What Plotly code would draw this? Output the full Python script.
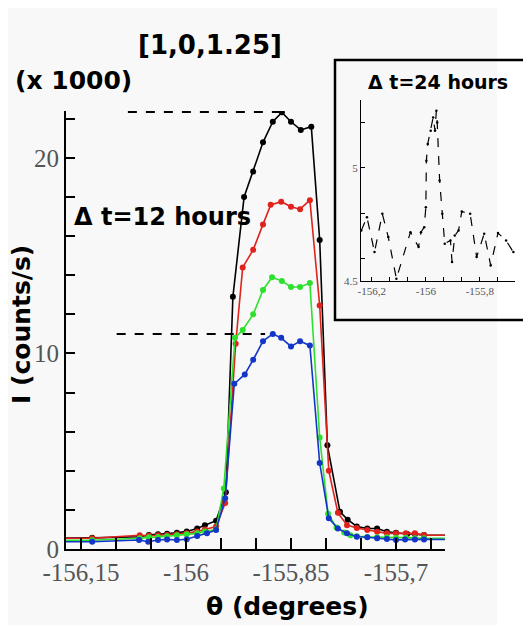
"""
Rocking curve of the [1,0,1.25] reflection at several times,
with an inset showing the curve after 24 hours.
"""

import plotly.graph_objects as go

# the page adds an 8 px body margin, so the figure is a bit smaller than the window
OFF = 8
W, H = 531 - OFF, 627 - OFF

# main panel: theta (degrees) and intensity (x 1000 counts/s)
theta_black = [-156.2, -156.134, -156.066, -156.053, -156.040, -156.027, -156.013, -155.999,
               -155.984, -155.973, -155.957, -155.943, -155.933, -155.917, -155.904, -155.890,
               -155.876, -155.863, -155.850, -155.836, -155.821, -155.809, -155.798, -155.780,
               -155.769, -155.756, -155.741, -155.727, -155.713, -155.700, -155.684, -155.673,
               -155.660, -155.6]
i_black = [0.55, 0.57, 0.63, 0.72, 0.75, 0.78, 0.83, 0.9, 1.05, 1.22, 1.45, 2.9, 12.9, 18.0,
           19.3, 20.8, 21.85, 22.33, 21.85, 21.43, 21.6, 15.8, 5.3, 1.9, 1.5, 1.15, 1.05, 1.05,
           0.88, 0.83, 0.77, 0.77, 0.71, 0.7]

theta_red = [-156.2, -156.134, -156.066, -156.053, -156.040, -156.027, -156.013, -155.999,
             -155.984, -155.973, -155.957, -155.944, -155.929, -155.919, -155.904, -155.890,
             -155.879, -155.864, -155.850, -155.837, -155.823, -155.809, -155.796, -155.783,
             -155.770, -155.756, -155.741, -155.727, -155.713, -155.700, -155.686, -155.673,
             -155.660, -155.6]
i_red = [0.55, 0.55, 0.7, 0.68, 0.7, 0.72, 0.76, 0.8, 0.9, 1.0, 1.15, 2.35, 10.5, 14.4, 15.3,
         16.6, 17.6, 17.76, 17.5, 17.38, 17.84, 12.45, 4.0, 1.85, 1.22, 1.07, 0.97, 0.88, 0.8,
         0.8, 0.8, 0.8, 0.71, 0.7]

theta_green = [-156.2, -156.134, -156.066, -156.053, -156.040, -156.027, -156.013, -155.999,
               -155.984, -155.973, -155.957, -155.946, -155.930, -155.919, -155.904, -155.890,
               -155.877, -155.863, -155.850, -155.837, -155.823, -155.809, -155.797, -155.785,
               -155.774, -155.765, -155.756, -155.741, -155.727, -155.713, -155.700, -155.686,
               -155.673, -155.660, -155.6]
i_green = [0.45, 0.45, 0.55, 0.6, 0.62, 0.65, 0.7, 0.75, 0.8, 0.9, 1.0, 3.1, 10.8, 11.2, 12.0,
           13.25, 13.9, 13.7, 13.4, 13.4, 13.6, 5.7, 1.8, 1.1, 0.85, 0.7, 0.65, 0.62, 0.6, 0.6,
           0.58, 0.58, 0.55, 0.55, 0.55]

theta_blue = [-156.2, -156.134, -156.067, -156.054, -156.040, -156.027, -156.013, -155.999,
              -155.984, -155.970, -155.957, -155.944, -155.931, -155.916, -155.904, -155.890,
              -155.876, -155.864, -155.850, -155.837, -155.823, -155.809, -155.796, -155.783,
              -155.770, -155.756, -155.741, -155.727, -155.713, -155.700, -155.687, -155.673,
              -155.660, -155.6]
i_blue = [0.37, 0.37, 0.46, 0.37, 0.46, 0.49, 0.46, 0.5, 0.66, 0.8, 0.97, 2.6, 8.45, 8.93, 9.68,
          10.63, 11.0, 10.8, 10.36, 10.63, 10.41, 4.4, 1.57, 1.05, 0.8, 0.63, 0.6, 0.55, 0.51,
          0.46, 0.48, 0.49, 0.49, 0.48]

# dashed guide lines (peak heights of the first and last curves)
guide_top_theta = [-156.083, -155.863]
guide_top_i = [22.35, 22.35]
guide_low_theta = [-156.099, -155.887]
guide_low_i = [11.0, 11.0]

x_ticks = [-156.15, -156.1, -156.05, -156.0, -155.95, -155.9, -155.85, -155.8, -155.75, -155.7, -155.65]
x_labels = ["-156,15", "", "", "-156", "", "", "-155,85", "", "", "-155,7", ""]
y_ticks = list(range(0, 23, 2))
y_labels = ["0", "", "", "", "", "10", "", "", "", "", "20", ""]

# inset: after 24 hours
ins_theta = [-156.239, -156.218, -156.190, -156.161, -156.139, -156.109, -156.057, -156.027,
             -156.018, -156.006, -156.000, -155.998, -155.993, -155.982, -155.973, -155.966,
             -155.961, -155.958, -155.949, -155.939, -155.930, -155.909, -155.903, -155.893,
             -155.879, -155.867, -155.836, -155.812, -155.784, -155.760, -155.733, -155.703,
             -155.676]
ins_i = [4.723, 4.782, 4.628, 4.797, 4.694, 4.510, 4.716, 4.650, 4.716, 4.738, 4.826, 5.032,
         5.106, 5.164, 5.223, 5.164, 5.253, 5.201, 4.944, 4.797, 4.665, 4.679, 4.584, 4.701,
         4.723, 4.807, 4.797, 4.606, 4.709, 4.569, 4.712, 4.679, 4.628]
ins_x_ticks = [-156.2, -156.133, -156.067, -156.0, -155.933, -155.867, -155.8, -155.733]
ins_x_labels = ["-156,2", "", "", "-156", "", "", "-155,8", ""]
ins_y_ticks = [4.5, 4.6, 4.8, 5.0, 5.2]
ins_y_labels = ["4.5", "", "", "5", ""]


def px(x):
    # window pixel -> paper fraction
    return (x - OFF) / W


def py(y):
    return 1 - (y - OFF) / H


fig = go.Figure()

series = [
    (theta_black, i_black, "#000000"),
    (theta_red, i_red, "#e0221c"),
    (theta_green, i_green, "#2ee02e"),
    (theta_blue, i_blue, "#1436c8"),
]
for th, inten, col in series:
    fig.add_trace(go.Scatter(
        x=th, y=inten, mode="lines+markers",
        line=dict(color=col, width=1.6),
        marker=dict(color=col, size=6),
        showlegend=False
    ))

for gx, gy in [(guide_top_theta, guide_top_i), (guide_low_theta, guide_low_i)]:
    fig.add_trace(go.Scatter(
        x=gx, y=gy, mode="lines",
        line=dict(color="black", width=2, dash="dash"),
        cliponaxis=False, showlegend=False
    ))

fig.add_trace(go.Scatter(
    x=ins_theta, y=ins_i, mode="lines+markers",
    line=dict(color="black", width=1.2, dash="dash"),
    marker=dict(color="black", size=2.5),
    xaxis="x2", yaxis="y2", showlegend=False
))

tick_font = dict(family="Liberation Serif", size=25, color="#555555")
small_font = dict(family="Liberation Serif", size=11, color="#555555")

fig.update_layout(
    width=W, height=H,
    margin=dict(l=0, r=0, t=0, b=0),
    paper_bgcolor="white",
    plot_bgcolor="rgba(0,0,0,0)",
    xaxis=dict(
        domain=[px(66), px(445)], range=[-156.1714, -155.63], automargin=False,
        tickvals=x_ticks, ticktext=x_labels, ticks="inside", ticklen=11, tickwidth=2,
        tickcolor="black", showline=True, linecolor="black", linewidth=2,
        showgrid=False, zeroline=False, tickfont=tick_font
    ),
    yaxis=dict(
        domain=[py(549), py(111)], range=[0, 22.4], automargin=False,
        tickvals=y_ticks, ticktext=y_labels, ticks="inside", ticklen=9, tickwidth=2,
        tickcolor="black", showline=True, linecolor="black", linewidth=2,
        showgrid=False, zeroline=False, tickfont=tick_font
    ),
    xaxis2=dict(
        domain=[px(361), px(515)], range=[-156.24, -155.67], anchor="y2", automargin=False,
        tickvals=ins_x_ticks, ticktext=ins_x_labels, ticks="inside", ticklen=4,
        tickcolor="black", showline=True, linecolor="black", linewidth=1,
        showgrid=False, zeroline=False, tickfont=small_font
    ),
    yaxis2=dict(
        domain=[py(281), py(100)], range=[4.5, 5.3], anchor="x2", automargin=False,
        tickvals=ins_y_ticks, ticktext=ins_y_labels, ticks="inside", ticklen=4,
        tickcolor="black", showline=True, linecolor="black", linewidth=1,
        showgrid=False, zeroline=False, tickfont=small_font
    ),
    shapes=[
        dict(type="rect", xref="paper", yref="paper", layer="below",
             x0=px(8), x1=px(497), y0=py(625), y1=py(8),
             fillcolor="#f8f8f8", line=dict(width=0)),
        dict(type="rect", xref="paper", yref="paper", layer="above",
             x0=px(335), x1=px(529), y0=py(320), y1=py(60),
             line=dict(color="black", width=2.5)),
    ],
)

bold = "DejaVu Sans"
texts = [
    ("<b>[1,0,1.25]</b>", 210, 45, 26, 0),
    ("<b>(x 1000)</b>", 73, 80, 25, 0),
    ("<b>Δ t=12 hours</b>", 162, 217, 24, 0),
    ("<b>θ (degrees)</b>", 287, 606, 25, 0),
    ("<b>I (counts/s)</b>", 21, 325, 25, -90),
    ("<b>Δ t=24 hours</b>", 438, 82, 19, 0),
]
for txt, x, y, size, ang in texts:
    fig.add_annotation(
        x=px(x), y=py(y), xref="paper", yref="paper", text=txt, showarrow=False,
        textangle=ang, xanchor="center", yanchor="middle",
        font=dict(family=bold, size=size, color="black")
    )

fig.write_html("out.html")
